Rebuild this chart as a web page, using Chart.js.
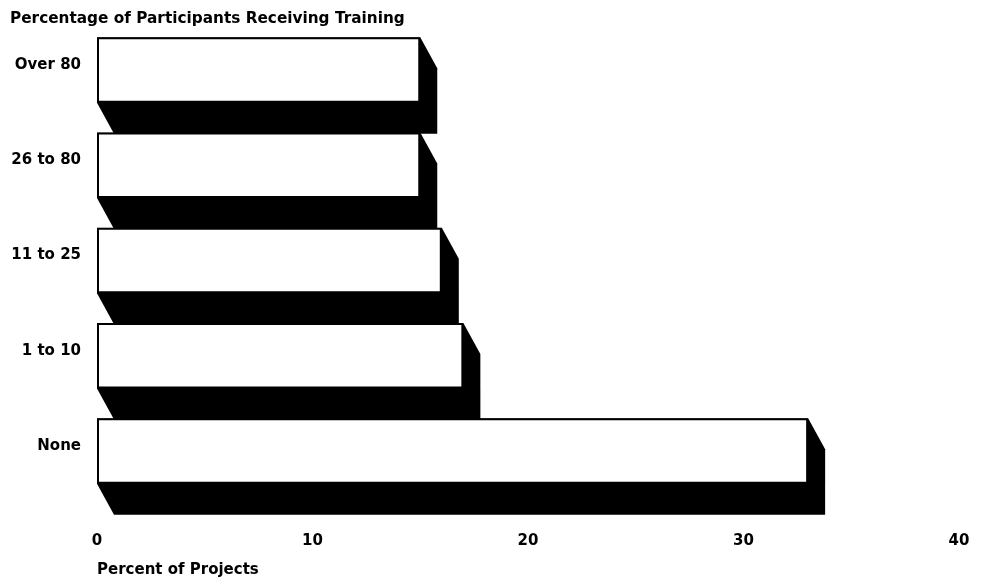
<!DOCTYPE html>
<html>
<head>
<meta charset="utf-8">
<script src="https://cdn.jsdelivr.net/npm/chart.js@4.4.1/dist/chart.umd.min.js"></script>
<style>
  html, body { margin: 0; padding: 0; background: #fff; overflow: hidden; }
  #wrap { width: 989px; height: 586px; }
</style>
</head>
<body>
<div id="wrap"><canvas id="chartTraining"></canvas></div>
<script>
const categories = ['Over 80', '26 to 80', '11 to 25', '1 to 10', 'None'];
const projectPercents = [15, 15, 16, 17, 33];
const xTicks = [0, 10, 20, 30, 40];
const chartTitle = 'Percentage of Participants Receiving Training';
const axisTitle = 'Percent of Projects';

const FONT = '"DejaVu Sans", "Liberation Sans", Arial, sans-serif';

// depth of the black block extruded behind each bar
const DEPTH_X = 17;
const DEPTH_Y = 31;

const blockShadow = {
    id: 'blockShadow',
    beforeDatasetsDraw(chart) {
        const ctx = chart.ctx;
        const meta = chart.getDatasetMeta(0);
        ctx.save();
        ctx.fillStyle = '#000';
        meta.data.forEach(bar => {
            const { x, y, base, height } = bar.getProps(['x', 'y', 'base', 'height'], true);
            const top = y - height / 2;
            const bottom = y + height / 2;
            ctx.beginPath();
            ctx.moveTo(base, top);
            ctx.lineTo(x, top);
            ctx.lineTo(x + DEPTH_X, top + DEPTH_Y);
            ctx.lineTo(x + DEPTH_X, bottom + DEPTH_Y);
            ctx.lineTo(base + DEPTH_X, bottom + DEPTH_Y);
            ctx.lineTo(base, bottom);
            ctx.closePath();
            ctx.fill();
        });
        ctx.restore();
    }
};

// title sits above the plot, left of the axis labels
const topTitle = {
    id: 'topTitle',
    afterDraw(chart) {
        const ctx = chart.ctx;
        ctx.save();
        ctx.font = 'bold 15.3px ' + FONT;
        ctx.fillStyle = '#000';
        ctx.textBaseline = 'middle';
        ctx.textAlign = 'left';
        ctx.fillText(chartTitle, 10, 19);
        ctx.restore();
    }
};

new Chart(document.getElementById('chartTraining'), {
    type: 'bar',
    data: {
        labels: categories,
        datasets: [{
            data: projectPercents,
            backgroundColor: '#fff',
            borderColor: '#000',
            borderWidth: 2,
            borderSkipped: false,
            barPercentage: 0.688,
            categoryPercentage: 1
        }]
    },
    options: {
        indexAxis: 'y',
        responsive: true,
        maintainAspectRatio: false,
        animation: false,
        layout: { padding: { left: 10, right: 30, top: 22.4, bottom: 0 } },
        scales: {
            x: {
                min: xTicks[0],
                max: xTicks[xTicks.length - 1],
                afterBuildTicks: (scale) => { scale.ticks = xTicks.map(v => ({ value: v })); },
                afterFit: (scale) => { scale.height = 87.4; },
                // hidden tick marks only push the labels down
                grid: { display: false, drawTicks: true, tickLength: 34 },
                border: { display: false },
                ticks: {
                    color: '#000',
                    padding: 0,
                    font: { family: FONT, size: 15, weight: 'bold' }
                },
                title: {
                    display: true,
                    text: axisTitle,
                    align: 'start',
                    color: '#000',
                    padding: { top: 0, bottom: 7 },
                    font: { family: FONT, size: 15, weight: 'bold' }
                }
            },
            y: {
                afterFit: (scale) => { scale.width = 87; },
                grid: { display: false, drawTicks: true, tickLength: 16 },
                border: { display: false },
                ticks: {
                    color: '#000',
                    padding: 0,
                    labelOffset: -5,
                    font: { family: FONT, size: 15, weight: 'bold' }
                }
            }
        },
        plugins: {
            legend: { display: false },
            tooltip: { enabled: false },
            title: { display: false }
        }
    },
    plugins: [blockShadow, topTitle]
});
</script>
</body>
</html>
